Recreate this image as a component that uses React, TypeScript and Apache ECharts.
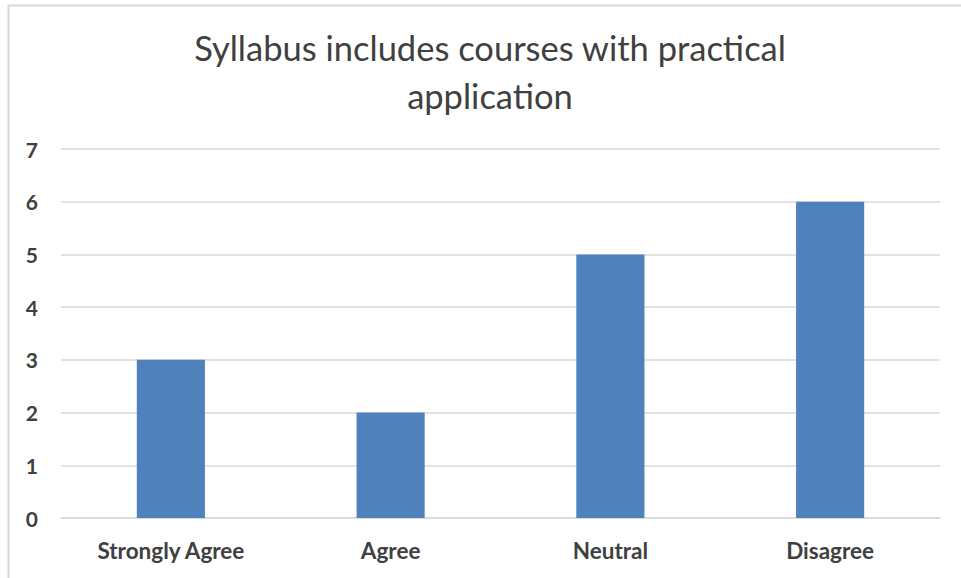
import React, { useEffect, useRef } from "react";
import * as echarts from "echarts";

const categories = ["Strongly Agree", "Agree", "Neutral", "Disagree"];
const values = [3, 2, 5, 6];
const titleText = "Syllabus includes courses with practical\napplication";

export default function App() {
  const ref = useRef<HTMLDivElement>(null);
  useEffect(() => {
    const chart = echarts.init(ref.current!, null, { renderer: "svg" });
    chart.setOption({
      animation: false,
      backgroundColor: "#ffffff",
      title: {
        text: titleText,
        left: 485,
        top: 18,
        textAlign: "center",
        textStyle: {
          fontFamily: "Lato",
          fontSize: 34.5,
          fontWeight: "normal",
          color: "#404040",
          lineHeight: 48,
        },
      },
      graphic: [
        {
          type: "rect",
          shape: { x: 8.5, y: 5.5, width: 1200, height: 1200 },
          style: { fill: "none", stroke: "#d9d9d9", lineWidth: 2 },
          silent: true,
          z: -1,
        },
      ],
      grid: { left: 61, right: 21, top: 149, bottom: 60, containLabel: false },
      xAxis: {
        type: "category",
        data: categories,
        axisLine: { show: true, lineStyle: { color: "#d9d9d9", width: 1.5 } },
        axisTick: { show: false },
        axisLabel: {
          fontFamily: "Lato",
          fontSize: 22.5,
          fontWeight: "bold",
          color: "#404040",
          margin: 21,
        },
      },
      yAxis: {
        type: "value",
        min: 0,
        max: 7,
        interval: 1,
        axisLine: { show: false },
        axisTick: { show: false },
        splitLine: { lineStyle: { color: "#d9d9d9", width: 1.5 } },
        axisLabel: {
          fontFamily: "Lato",
          fontSize: 21,
          fontWeight: "bold",
          color: "#404040",
          margin: 23,
        },
      },
      series: [
        {
          type: "bar",
          data: values,
          barWidth: "31%",
          itemStyle: { color: "#4F81BD" },
        },
      ],
    });
    return () => chart.dispose();
  }, []);
  return (
    <div
      ref={ref}
      style={{ position: "fixed", left: 0, top: 0, width: 961, height: 578 }}
    />
  );
}
